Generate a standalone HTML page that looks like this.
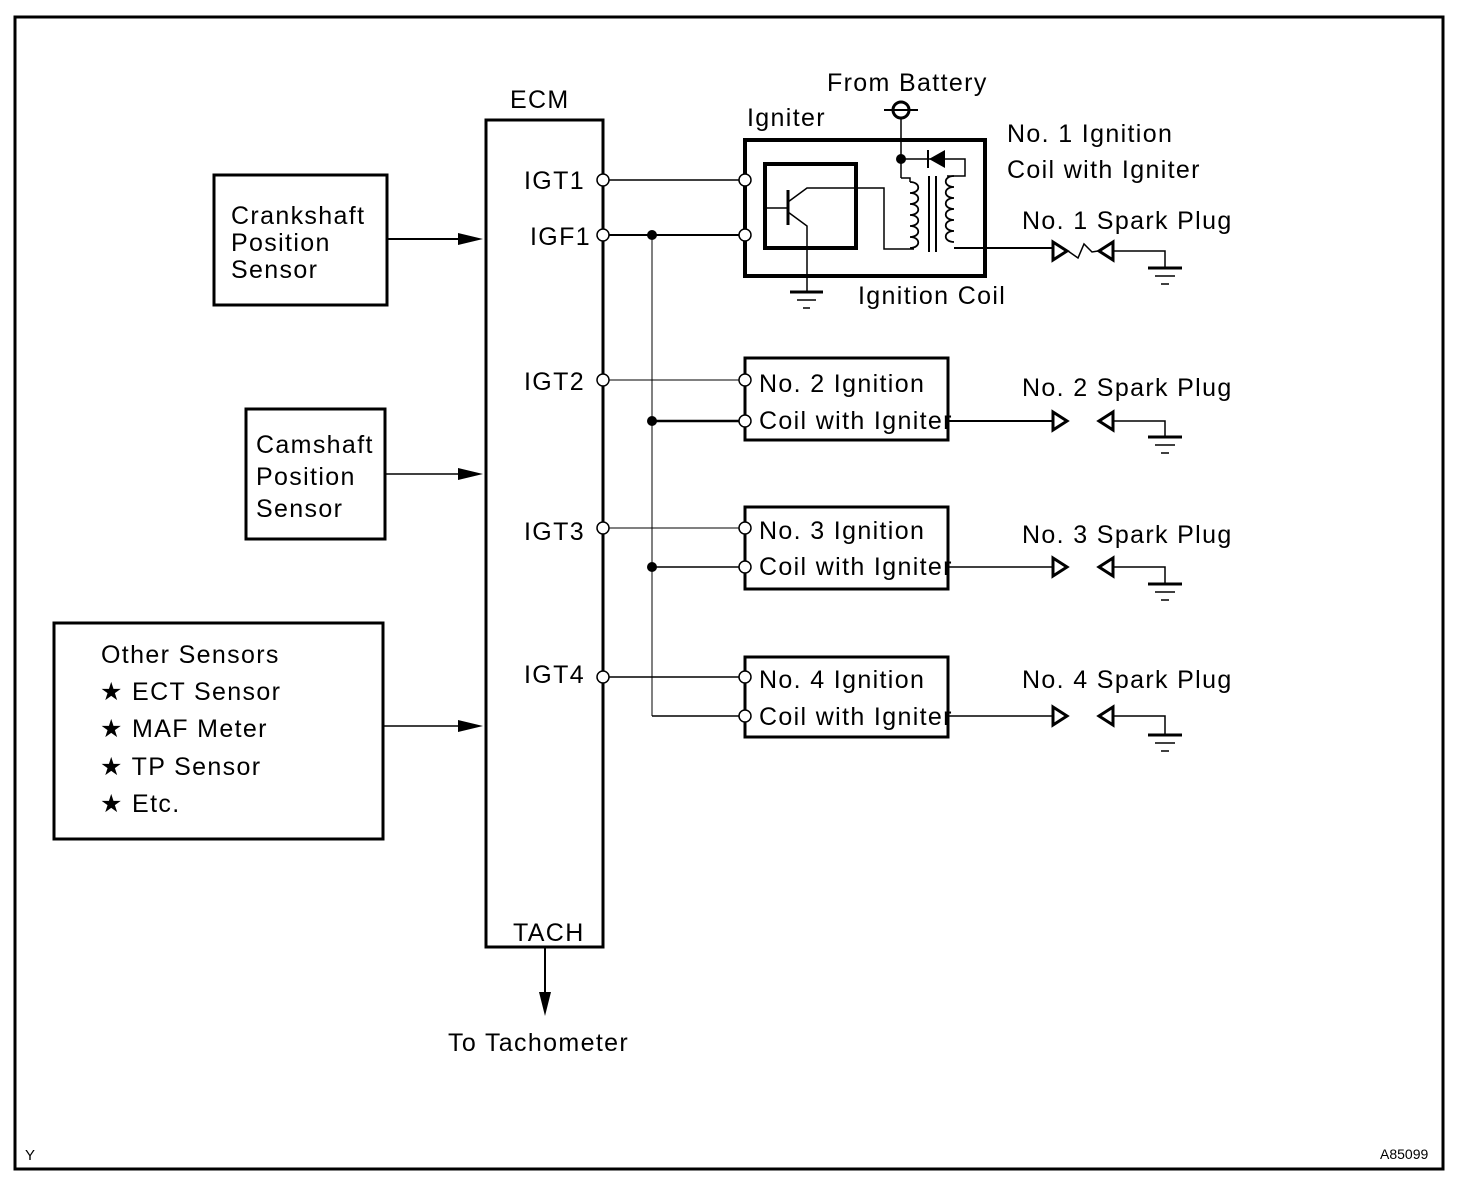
<!DOCTYPE html>
<html><head><meta charset="utf-8"><style>
html,body{margin:0;padding:0;background:#fff;}
svg{display:block;}
text{font-family:"Liberation Sans",Arial,sans-serif;font-size:25px;fill:#000;letter-spacing:1.35px;}
</style></head><body>
<svg width="1472" height="1186" viewBox="0 0 1472 1186" xmlns="http://www.w3.org/2000/svg">
<rect x="0" y="0" width="1472" height="1186" fill="#fff"/>
<g fill="none" stroke="#000">
<rect x="15" y="17" width="1428" height="1152" stroke-width="3"/>
<rect x="214" y="175" width="173" height="130" stroke-width="3"/>
<rect x="246" y="409" width="139" height="130" stroke-width="3"/>
<rect x="54" y="623" width="329" height="216" stroke-width="3"/>
<line x1="387" y1="239" x2="462" y2="239" stroke-width="2"/>
<line x1="385" y1="474" x2="462" y2="474" stroke-width="1.5"/>
<line x1="383" y1="726" x2="462" y2="726" stroke-width="1.5"/>
<rect x="486" y="120" width="117" height="827" stroke-width="3"/>
<line x1="545" y1="948" x2="545" y2="995" stroke-width="2"/>
<line x1="608" y1="180" x2="740" y2="180" stroke-width="1.5"/>
<line x1="608" y1="235" x2="740" y2="235" stroke-width="2"/>
<line x1="608" y1="380" x2="740" y2="380" stroke-width="1"/>
<line x1="652" y1="421" x2="740" y2="421" stroke-width="2.5"/>
<line x1="608" y1="528" x2="740" y2="528" stroke-width="1"/>
<line x1="652" y1="567" x2="740" y2="567" stroke-width="1.5"/>
<line x1="608" y1="677" x2="740" y2="677" stroke-width="1.5"/>
<line x1="652" y1="716" x2="740" y2="716" stroke-width="1.5"/>
<line x1="652" y1="235" x2="652" y2="716" stroke-width="1"/>
<rect x="745" y="358" width="203" height="82" stroke-width="3"/>
<rect x="745" y="507" width="203" height="82" stroke-width="3"/>
<rect x="745" y="657" width="203" height="80" stroke-width="3"/>
<line x1="948" y1="421" x2="1052" y2="421" stroke-width="2"/>
<line x1="948" y1="567" x2="1052" y2="567" stroke-width="1.5"/>
<line x1="948" y1="716" x2="1052" y2="716" stroke-width="1.5"/>
<rect x="745" y="140" width="240" height="136" stroke-width="4"/>
<rect x="765" y="164" width="91" height="84" stroke-width="4"/>
<line x1="766" y1="208" x2="787" y2="208" stroke-width="1.5"/>
<line x1="788" y1="190" x2="788" y2="225" stroke-width="3"/>
<polyline points="788,202 807,188 884,188 884,249 914,249" stroke-width="1.5"/>
<polyline points="788,212 807,226 807,292" stroke-width="1.5"/>
<line x1="790" y1="292" x2="823" y2="292" stroke-width="3"/>
<line x1="797" y1="300" x2="816" y2="300" stroke-width="1.5"/>
<line x1="803" y1="308" x2="810" y2="308" stroke-width="1.5"/>
<circle cx="901" cy="110" r="8" stroke-width="3"/>
<line x1="884" y1="110" x2="918" y2="110" stroke-width="2"/>
<line x1="901" y1="118" x2="901" y2="178" stroke-width="1.5"/>
<polyline points="901,159 965,159 965,176 947,176" stroke-width="1.5"/>
<polyline points="901,178 910,178 910,182" stroke-width="1.5"/>
<line x1="929" y1="176" x2="929" y2="252" stroke-width="2"/>
<line x1="936" y1="176" x2="936" y2="252" stroke-width="2"/>
<path d="M910,182 c11,0 11,11 0,11 c11,0 11,11 0,11 c11,0 11,11 0,11 c11,0 11,11 0,11 c11,0 11,11 0,11 c11,0 11,11 0,11" stroke-width="1.8"/>
<path d="M954,176 c-11,0 -11,11 0,11 c-11,0 -11,11 0,11 c-11,0 -11,11 0,11 c-11,0 -11,11 0,11 c-11,0 -11,11 0,11 c-11,0 -11,11 0,11" stroke-width="1.8"/>
<line x1="954" y1="248" x2="1052" y2="248" stroke-width="2"/>
<polyline points="1068,251 1078,258 1084,244 1092,252 1098,251" stroke-width="1.5"/>
<polyline points="1114,251 1165,251 1165,268" stroke-width="1.5"/>
<polyline points="1114,421 1165,421 1165,437" stroke-width="1.5"/>
<polyline points="1114,567 1165,567 1165,584" stroke-width="1.5"/>
<polyline points="1114,716 1165,716 1165,735" stroke-width="1.5"/>
</g>
<polygon points="929,159 945,150 945,168" fill="#000"/>
<line x1="928" y1="150" x2="928" y2="168" stroke="#000" stroke-width="2"/>
<g stroke="#000">
<g transform="translate(1165,268)"><line x1="-17" y1="0" x2="17" y2="0" stroke-width="3"/><line x1="-10" y1="8" x2="10" y2="8" stroke-width="1.5"/><line x1="-4" y1="16" x2="4" y2="16" stroke-width="1.5"/></g>
<g transform="translate(1165,437)"><line x1="-17" y1="0" x2="17" y2="0" stroke-width="3"/><line x1="-10" y1="8" x2="10" y2="8" stroke-width="1.5"/><line x1="-4" y1="16" x2="4" y2="16" stroke-width="1.5"/></g>
<g transform="translate(1165,584)"><line x1="-17" y1="0" x2="17" y2="0" stroke-width="3"/><line x1="-10" y1="8" x2="10" y2="8" stroke-width="1.5"/><line x1="-4" y1="16" x2="4" y2="16" stroke-width="1.5"/></g>
<g transform="translate(1165,735)"><line x1="-17" y1="0" x2="17" y2="0" stroke-width="3"/><line x1="-10" y1="8" x2="10" y2="8" stroke-width="1.5"/><line x1="-4" y1="16" x2="4" y2="16" stroke-width="1.5"/></g>
</g>
<g fill="#fff" stroke="#000" stroke-width="3">
<polygon points="1053,242 1067,251 1053,260"/><polygon points="1113,242 1099,251 1113,260"/>
<polygon points="1053,412 1067,421 1053,430"/><polygon points="1113,412 1099,421 1113,430"/>
<polygon points="1053,558 1067,567 1053,576"/><polygon points="1113,558 1099,567 1113,576"/>
<polygon points="1053,707 1067,716 1053,725"/><polygon points="1113,707 1099,716 1113,725"/>
</g>
<g fill="#000">
<polygon points="458,233 483,239 458,245"/>
<polygon points="458,468 483,474 458,480"/>
<polygon points="458,720 483,726 458,732"/>
<polygon points="539,992 545,1016 551,992"/>
<circle cx="652" cy="235" r="5"/><circle cx="652" cy="421" r="5"/><circle cx="652" cy="567" r="5"/><circle cx="901" cy="159" r="5"/>
</g>
<g fill="#fff" stroke="#000" stroke-width="1.5">
<circle cx="603" cy="180" r="6"/><circle cx="603" cy="235" r="6"/><circle cx="603" cy="380" r="6"/><circle cx="603" cy="528" r="6"/><circle cx="603" cy="677" r="6"/>
<circle cx="745" cy="180" r="6"/><circle cx="745" cy="235" r="6"/>
<circle cx="745" cy="380" r="6"/><circle cx="745" cy="421" r="6"/>
<circle cx="745" cy="528" r="6"/><circle cx="745" cy="567" r="6"/>
<circle cx="745" cy="677" r="6"/><circle cx="745" cy="716" r="6"/>
</g>
<text x="231" y="224">Crankshaft</text><text x="231" y="251">Position</text><text x="231" y="278">Sensor</text>
<text x="256" y="453">Camshaft</text><text x="256" y="485">Position</text><text x="256" y="517">Sensor</text>
<text x="101" y="663">Other Sensors</text>
<text x="100" y="700">★ ECT Sensor</text><text x="100" y="737">★ MAF Meter</text><text x="100" y="775">★ TP Sensor</text><text x="100" y="812">★ Etc.</text>
<text x="510" y="108">ECM</text>
<text x="524" y="189">IGT1</text><text x="530" y="245">IGF1</text>
<text x="524" y="390">IGT2</text><text x="524" y="540">IGT3</text><text x="524" y="683">IGT4</text>
<text x="513" y="941">TACH</text>
<text x="448" y="1051">To Tachometer</text>
<text x="827" y="91">From Battery</text>
<text x="747" y="126">Igniter</text>
<text x="1007" y="142">No. 1 Ignition</text><text x="1007" y="178">Coil with Igniter</text>
<text x="1022" y="229">No. 1 Spark Plug</text>
<text x="858" y="304">Ignition Coil</text>
<text x="759" y="392">No. 2 Ignition</text><text x="759" y="429">Coil with Igniter</text>
<text x="1022" y="396">No. 2 Spark Plug</text>
<text x="759" y="539">No. 3 Ignition</text><text x="759" y="575">Coil with Igniter</text>
<text x="1022" y="543">No. 3 Spark Plug</text>
<text x="759" y="688">No. 4 Ignition</text><text x="759" y="725">Coil with Igniter</text>
<text x="1022" y="688">No. 4 Spark Plug</text>
<text x="25" y="1160" style="font-size:15px;letter-spacing:0">Y</text>
<text x="1380" y="1159" style="font-size:14px;letter-spacing:0">A85099</text>
</svg>
</body></html>
